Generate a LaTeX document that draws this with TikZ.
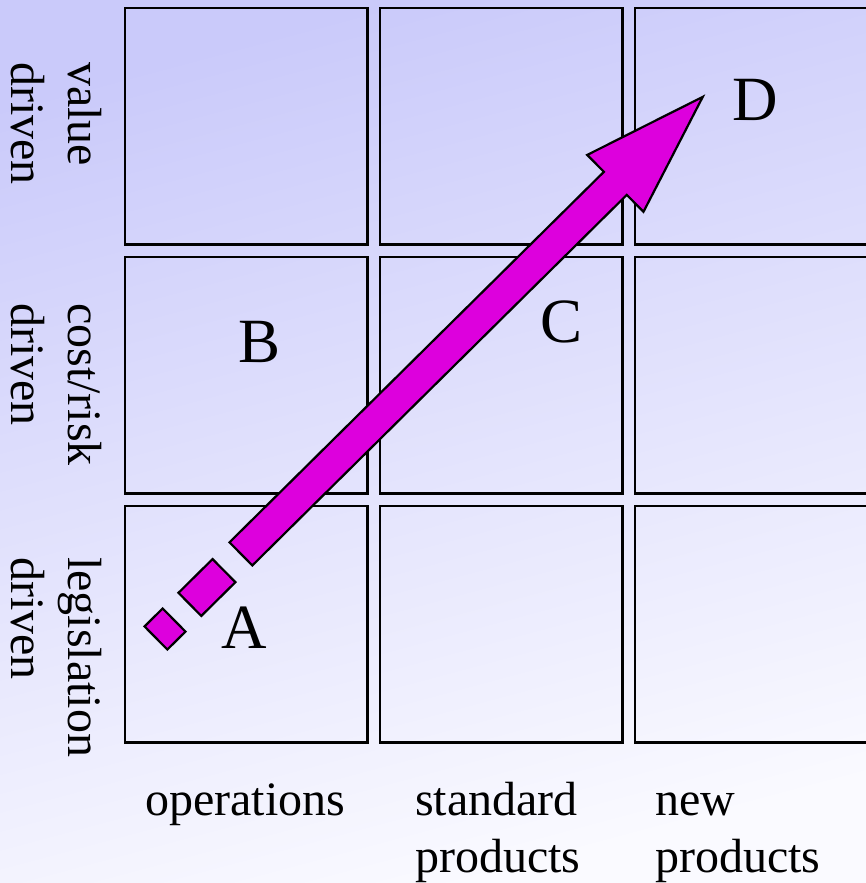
\documentclass[tikz,border=0pt]{standalone}
\usepackage{fontspec}
\setmainfont{Liberation Serif}
\usetikzlibrary{positioning}

\definecolor{bgtop}{RGB}{202,202,250}
\definecolor{bgbottom}{RGB}{250,250,255}
\definecolor{arrowfill}{RGB}{221,0,221}

\begin{document}
\begin{tikzpicture}[x=1pt, y=-1pt,
  cell/.style={draw=black, line width=2.4pt},
  axislabel/.style={inner sep=0pt, align=left, font=\fontsize{48}{57}\selectfont},
  letter/.style={inner sep=0pt, anchor=base, font=\fontsize{63}{70}\selectfont},
  block/.style={draw=black, line width=2.2pt, fill=arrowfill, line join=miter}]
  \useasboundingbox (0,0) rectangle (866,883);
  \shade[top color=bgtop, bottom color=bgbottom, shading angle=15] (0,0) rectangle (866,883);

  \foreach \xa in {125,380,635}
    \foreach \ya in {8,257,506}
      \draw[cell] (\xa,\ya) rectangle ++(242.5,236.5);

  \node[axislabel, rotate=-90, anchor=base west] at (11,62) (value) {value\\driven};
  \node[axislabel, rotate=-90, anchor=base west] at (11,303) (costrisk) {cost/risk\\driven};
  \node[axislabel, rotate=-90, anchor=base west] at (11,557) (legislation) {legislation\\driven};

  \node[axislabel, anchor=base west] at (145,815) (operations) {operations};
  \node[axislabel, anchor=base west] at (415,872) (standard) {standard\\products};
  \node[axislabel, anchor=base west] at (655,872) (new) {new\\products};

  \begin{scope}[shift={(165,629)}, rotate=44.7]
    \draw[block] (-12.75,-16.25) rectangle (12.75,16.25);
    \draw[block] (35,-16.25) rectangle (83,16.25);
    \draw[block] (106.8,-16.25) -- (633.6,-16.25) -- (633.6,-40) -- (756.6,0)
      -- (633.6,40) -- (633.6,16.25) -- (106.8,16.25) -- cycle;
  \end{scope}

  \node[letter] at (244,648) (A) {A};
  \node[letter] at (260,362) (B) {B};
  \node[letter] at (562,342) (C) {C};
  \node[letter] at (755,120) (D) {D};
\end{tikzpicture}
\end{document}
